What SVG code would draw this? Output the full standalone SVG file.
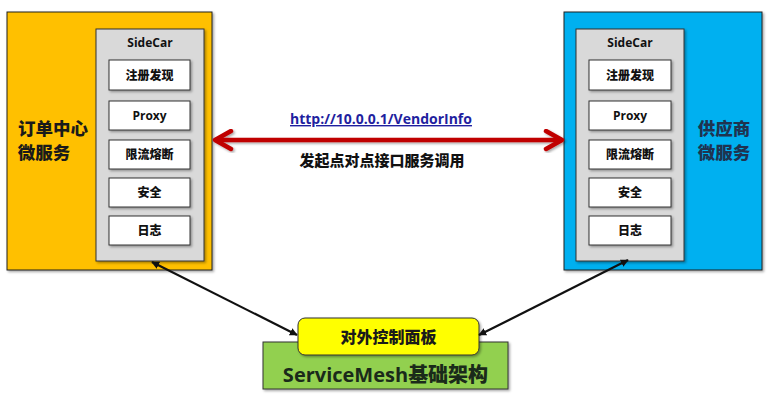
<svg xmlns="http://www.w3.org/2000/svg" width="771" height="400" viewBox="0 0 771 400">
<defs>
<filter id="sh" x="-10%" y="-10%" width="130%" height="130%">
<feDropShadow dx="1.5" dy="1.5" stdDeviation="1.2" flood-color="#000" flood-opacity="0.35"/>
</filter>
<marker id="ah" viewBox="0 0 10 10" refX="9" refY="5" markerWidth="8" markerHeight="8" orient="auto-start-reverse" markerUnits="userSpaceOnUse">
<path d="M0,0 L10,5 L0,10 z" fill="#111"/>
</marker>
</defs>
<style>
text{font-family:"Open Sans","Noto Sans CJK SC",sans-serif;font-weight:bold;text-anchor:middle}
.cjk{font-family:"Noto Sans CJK SC",sans-serif;font-weight:900}
.outer{stroke:#222;stroke-width:1}
.gray{fill:#D9D9D9;stroke:#333;stroke-width:1}
.item{fill:#fff;stroke:#333;stroke-width:1}
.it{font-size:12px;fill:#111}
.big{font-size:17.5px}
.conn{stroke:#111;stroke-width:2.2;fill:none}
</style>
<rect width="771" height="400" fill="#fff"/>

<g id="order-service">
<rect class="outer" x="7" y="12" width="205" height="258" fill="#FFC000" filter="url(#sh)"/>
<text class="big cjk" x="53" y="135" fill="#1a1a1a">订单中心</text>
<text class="big cjk" x="44" y="159" fill="#1a1a1a">微服务</text>
</g>
<g id="order-sidecar">
<rect class="gray" x="96" y="29" width="108" height="232" filter="url(#sh)"/>
<text class="it" x="150" y="47">SideCar</text>
<rect class="item" x="109" y="60" width="81" height="30" filter="url(#sh)"/>
<text class="it cjk" x="149.5" y="79.5">注册发现</text>
<rect class="item" x="109" y="101" width="81" height="29" filter="url(#sh)"/>
<text class="it" x="149.5" y="120">Proxy</text>
<rect class="item" x="109" y="140" width="81" height="29" filter="url(#sh)"/>
<text class="it cjk" x="149.5" y="159">限流熔断</text>
<rect class="item" x="109" y="178" width="81" height="29" filter="url(#sh)"/>
<text class="it cjk" x="149.5" y="197">安全</text>
<rect class="item" x="109" y="216" width="81" height="29" filter="url(#sh)"/>
<text class="it cjk" x="149.5" y="235">日志</text>
</g>

<g id="vendor-service">
<rect class="outer" x="564" y="12" width="198" height="258" fill="#00B0F0" filter="url(#sh)"/>
<text class="big cjk" x="724" y="135" fill="#1F3350">供应商</text>
<text class="big cjk" x="724" y="159" fill="#1F3350">微服务</text>
</g>
<g id="vendor-sidecar">
<rect class="gray" x="576" y="29" width="108" height="232" filter="url(#sh)"/>
<text class="it" x="630" y="47">SideCar</text>
<rect class="item" x="589" y="60" width="82" height="30" filter="url(#sh)"/>
<text class="it cjk" x="630" y="79.5">注册发现</text>
<rect class="item" x="589" y="101" width="82" height="29" filter="url(#sh)"/>
<text class="it" x="630" y="120">Proxy</text>
<rect class="item" x="589" y="140" width="82" height="29" filter="url(#sh)"/>
<text class="it cjk" x="630" y="159">限流熔断</text>
<rect class="item" x="589" y="178" width="82" height="29" filter="url(#sh)"/>
<text class="it cjk" x="630" y="197">安全</text>
<rect class="item" x="589" y="216" width="82" height="29" filter="url(#sh)"/>
<text class="it cjk" x="630" y="235">日志</text>
</g>

<g id="servicemesh">
<rect x="263" y="342" width="245" height="47" fill="#92D050" stroke="#333" stroke-width="1" filter="url(#sh)"/>
<text x="385.5" y="382" font-size="20" fill="#1a2a1a">ServiceMesh<tspan class="cjk">基础架构</tspan></text>
</g>
<g id="control-panel">
<rect x="298" y="318" width="181" height="37" rx="7" ry="7" fill="#FFFF00" stroke="#333" stroke-width="1" filter="url(#sh)"/>
<text class="cjk" x="388.5" y="342.5" font-size="16" fill="#1a1a1a">对外控制面板</text>
</g>

<g id="connectors">
<g filter="url(#sh)" stroke="#C00000" stroke-width="4.5" stroke-linecap="round" stroke-linejoin="round" fill="none">
<line x1="216" y1="140" x2="561" y2="140"/>
<polyline points="231,131 215,140 231,149"/>
<polyline points="546,131 562,140 546,149"/>
</g>
<line class="conn" x1="152" y1="262" x2="297" y2="335" marker-start="url(#ah)" marker-end="url(#ah)"/>
<line class="conn" x1="628" y1="260" x2="479" y2="335" marker-start="url(#ah)" marker-end="url(#ah)"/>
<text x="381" y="124" font-size="14" fill="#1F1F9F" text-decoration="underline">http://10.0.0.1/VendorInfo</text>
<text class="cjk" x="382" y="166" font-size="15" fill="#111">发起点对点接口服务调用</text>
</g>
</svg>
